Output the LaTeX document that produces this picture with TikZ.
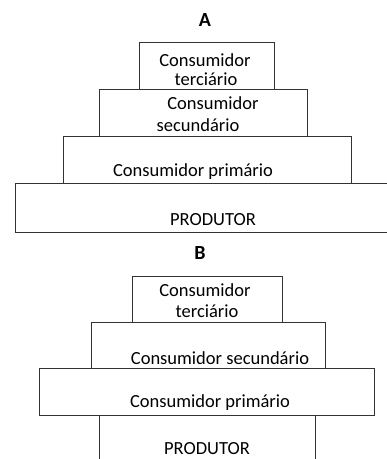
\documentclass[tikz,border=0pt]{standalone}
\usepackage{fontspec}
\setmainfont{Carlito}
\usetikzlibrary{positioning}

\begin{document}
\begin{tikzpicture}[x=1pt, y=-1pt,
    box/.style={draw=black!80, line width=0.9pt, rectangle, inner sep=0pt},
    txt/.style={inner sep=0pt, font=\fontsize{18.5}{21}\selectfont},
    title/.style={inner sep=0pt, font=\fontsize{20}{22}\selectfont\bfseries}]
\useasboundingbox (0,0) rectangle (387,459);

% Pyramid A
\node[title] (tA) at (205,20) {A};
\node[box, minimum width=135pt, minimum height=47pt] (a4) at (206.5,65.5) {};
\node[box, minimum width=208pt, minimum height=47pt] (a3) at (203,112.5) {};
\node[box, minimum width=288pt, minimum height=47pt] (a2) at (207,159.5) {};
\node[box, minimum width=380pt, minimum height=49pt] (a1) at (205,207.5) {};

\node[txt] (a4t1) at (205,60) {Consumidor};
\node[txt] (a4t2) at (206,79) {terciário};
\node[txt] (a3t1) at (213,103) {Consumidor};
\node[txt] (a3t2) at (198,125) {secundário};
\node[txt] (a2t) at (193,172) {Consumidor primário};
\node[txt] (a1t) at (213,220) {PRODUTOR};

% Pyramid B
\node[title] (tB) at (200,253) {B};
\node[box, minimum width=150pt, minimum height=46pt] (b4) at (207,299) {};
\node[box, minimum width=234pt, minimum height=46pt] (b3) at (208,345) {};
\node[box, minimum width=335pt, minimum height=47pt] (b2) at (206.5,391.5) {};
\node[box, minimum width=216pt, minimum height=55pt] (b1) at (207,442.5) {};

\node[txt] (b4t1) at (205,290) {Consumidor};
\node[txt] (b4t2) at (207,311) {terciário};
\node[txt] (b3t) at (220,358) {Consumidor secundário};
\node[txt] (b2t) at (210,403) {Consumidor primário};
\node[txt] (b1t) at (207,449) {PRODUTOR};

\end{tikzpicture}
\end{document}
